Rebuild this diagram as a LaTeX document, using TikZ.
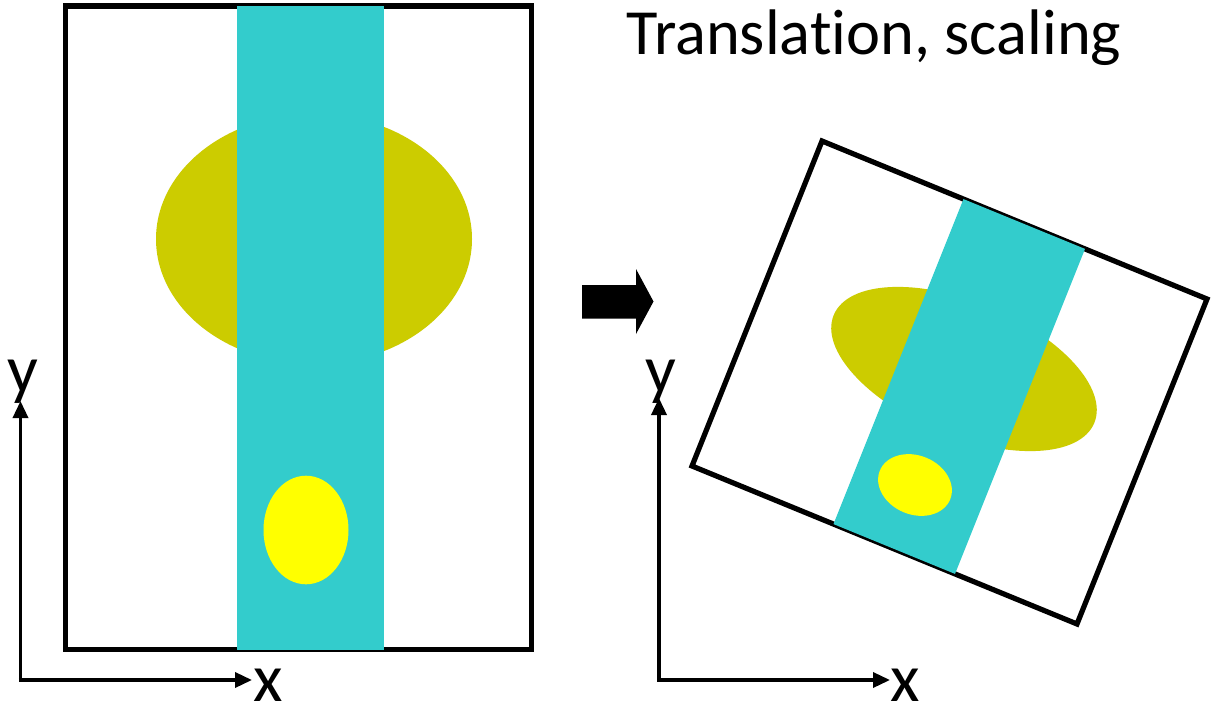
\documentclass[tikz,border=0pt]{standalone}
\usepackage{fontspec}
\setmainfont{Carlito}[Ligatures=NoCommon]
\usetikzlibrary{arrows.meta}
\definecolor{bandcyan}{RGB}{51,204,204}
\definecolor{olive}{RGB}{204,204,0}
\definecolor{yel}{RGB}{255,255,0}
\tikzset{
  frame/.style={draw=black, line width=2.6pt, fill=white},
  axis/.style={line width=1.75pt, -{Triangle[length=8.5pt,width=7.5pt]}},
  axislabel/.style={font=\fontsize{34}{40}\selectfont, inner sep=0pt, anchor=base},
  titletext/.style={font=\fontsize{32.2}{38}\selectfont, inner sep=0pt, anchor=base}
}
\begin{document}
\begin{tikzpicture}[x=0.5pt,y=-0.5pt]
\useasboundingbox (0,0) rectangle (1211,706);
% ---- left picture ----
\draw[frame] (65.7,6) rectangle (531.7,649.5);
\fill[olive] (314,239) ellipse [x radius=158, y radius=125];
\fill[bandcyan] (237,6) rectangle (384,649.5);
\fill[yel] (306,530) ellipse [x radius=42.5, y radius=54.3];
% ---- block arrow ----
\fill[black] (582,285) -- (636,285) -- (636,269) -- (653.5,301.5) -- (636,334) -- (636,318.5) -- (582,318.5) -- cycle;
% ---- title ----
\node[titletext] (title) at (874,55) {Translation, scaling};
% ---- right picture ----
\coordinate (TL) at (822,141);
\coordinate (TR) at (1207,299);
\coordinate (BR) at (1077,624);
\coordinate (BL) at (692,466);
\draw[frame, line join=miter] (TL) -- (TR) -- (BR) -- (BL) -- cycle;
\fill[olive, rotate around={-22.5:(964,369)}] (964,369) ellipse [x radius=141, y radius=67];
\fill[bandcyan] (963.5,199.1) -- (1085,248.9) -- (955,573.9) -- (833.5,524.1) -- cycle;
\fill[yel, rotate around={-22.3:(915,485)}] (915,485) ellipse [x radius=38, y radius=29.5];
% ---- left axes ----
\coordinate (o1) at (20.5,680);
\coordinate (y1) at (20.5,401);
\coordinate (x1) at (252,680);
\draw[axis] (o1) -- (y1);
\draw[axis] ([xshift=-0.875pt]o1) -- (x1);
\node[axislabel] (ly1) at (22.5,392) {y};
\node[axislabel] (lx1) at (268,701) {x};
% ---- right axes ----
\coordinate (o2) at (659,680);
\coordinate (y2) at (659,398);
\coordinate (x2) at (890,680);
\draw[axis] (o2) -- (y2);
\draw[axis] ([xshift=-0.875pt]o2) -- (x2);
\node[axislabel] (ly2) at (661,392) {y};
\node[axislabel] (lx2) at (905,701) {x};
\end{tikzpicture}
\end{document}
